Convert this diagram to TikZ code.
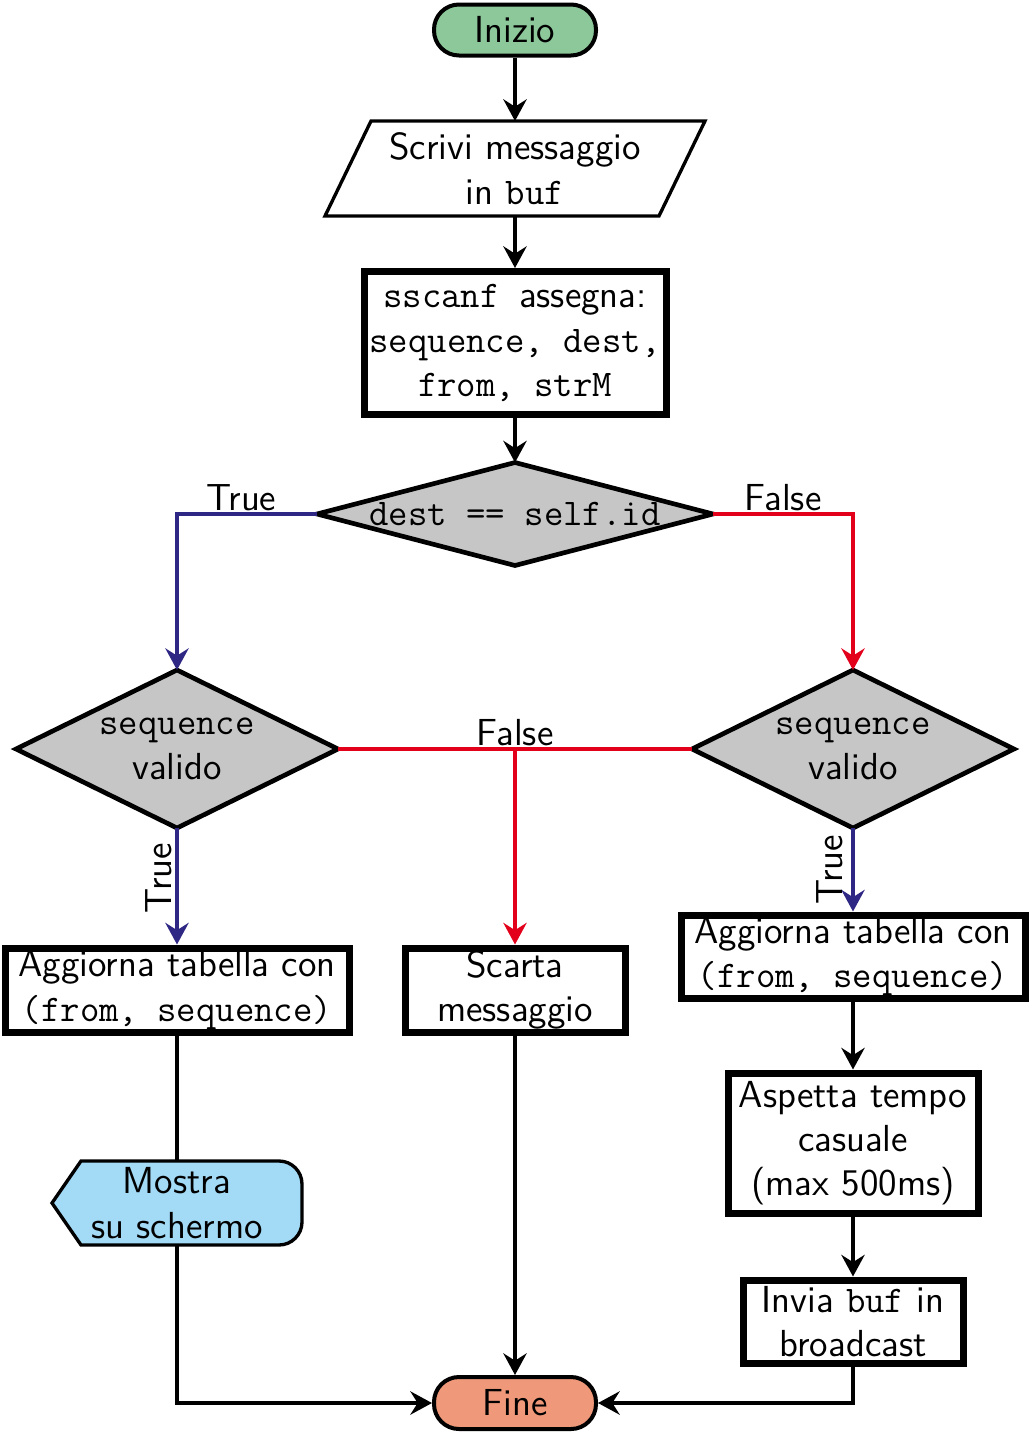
\documentclass[tikz,border=0pt]{standalone}
\usetikzlibrary{arrows.meta,calc}
\pgfdeclarelayer{background}
\pgfsetlayers{background,main}
\definecolor{startgreen}{HTML}{8DC89A}
\definecolor{endsalmon}{HTML}{F0997A}
\definecolor{displayblue}{HTML}{A3DAF5}
\definecolor{decgray}{HTML}{C6C6C6}
\definecolor{truepath}{HTML}{2E2783}
\definecolor{falsepath}{HTML}{E3001B}
\tikzset{
  nodetext/.style={font=\sffamily\fontsize{11.3}{13.3}\selectfont, align=center, inner sep=0.5pt},
  terminal/.style={nodetext, rectangle, rounded corners=7.5pt, draw, line width=1.2pt,
                   minimum width=48.6pt, minimum height=15.3pt},
  procbox/.style={nodetext, rectangle, draw, line width=2.1pt},
  txtnode/.style={nodetext, rectangle, outer sep=0pt},
  conn/.style={line width=1pt, -{Stealth[length=6.5pt,width=7pt,inset=2.2pt]}},
  link/.style={line width=1pt},
  edgelabel/.style={font=\sffamily\fontsize{11.3}{13.3}\selectfont, text=black, inner sep=0.5pt},
  decision/.style={fill=decgray, draw, line width=1.4pt},
}
\begin{document}
\begin{tikzpicture}[x=0.3pt, y=-0.3pt]
\useasboundingbox (0,0) rectangle (1031,1433);

% --- main column ---
\node[terminal, fill=startgreen] (start) at (515,30) {Inizio};
\node[txtnode, minimum width=100.2pt, minimum height=28.5pt] (write) at (515,168.5)
  {Scrivi messaggio\\ in \texttt{buf}};
\node[procbox, minimum width=90.6pt, minimum height=42.9pt] (scan) at (515,343)
  {\texttt{sscanf\ }assegna:\\ \texttt{sequence, dest,}\\ \texttt{from, strM}};
\node[txtnode, minimum width=118.8pt, minimum height=30.9pt] (d1) at (515,514)
  {\texttt{dest == self.id}};

% --- decisions on sequence ---
\node[txtnode, minimum width=96.6pt, minimum height=47.4pt] (d2) at (177,749)
  {\texttt{sequence}\\ valido};
\node[txtnode, minimum width=96.6pt, minimum height=47.4pt] (d3) at (853,749)
  {\texttt{sequence}\\ valido};

% --- actions ---
\node[procbox, minimum width=103.2pt, minimum height=25.2pt] (agg1) at (177,990)
  {Aggiorna tabella con\\ \texttt{(from, sequence)}};
\node[procbox, minimum width=66pt, minimum height=25.2pt] (scarta) at (515,990)
  {Scarta\\ messaggio};
\node[procbox, minimum width=103.2pt, minimum height=24.9pt] (agg2) at (853,956.5)
  {Aggiorna tabella con\\ \texttt{(from, sequence)}};
\node[procbox, minimum width=75pt, minimum height=42pt] (aspetta) at (853,1143)
  {Aspetta tempo\\ casuale\\ (max 500ms)};
\node[procbox, minimum width=66pt, minimum height=24.9pt] (invia) at (853,1321.5)
  {Invia \texttt{buf} in\\ broadcast};
\node[txtnode, minimum width=75pt, minimum height=25.2pt] (mostra) at (177,1203)
  {Mostra\\ su schermo};
\node[terminal, fill=endsalmon, minimum height=15.6pt] (fine) at (515,1403) {Fine};

% --- shapes behind the texts ---
\begin{pgfonlayer}{background}
  \draw[line width=1pt, fill=white]
    ($(write.north west)+(23,0)$) -- ($(write.north east)+(23,0)$)
    -- ($(write.south east)+(-23,0)$) -- ($(write.south west)+(-23,0)$) -- cycle;
  \foreach \d in {d1,d2,d3}
    \draw[decision] (\d.north) -- (\d.east) -- (\d.south) -- (\d.west) -- cycle;
  \draw[line width=1pt, fill=displayblue]
    (mostra.west) -- ($(mostra.north west)+(29,0)$)
    -- ($(mostra.north east)+(-23,0)$) arc[start angle=90, end angle=0, radius=6.9pt]
    -- ($(mostra.south east)+(0,-23)$) arc[start angle=0, end angle=-90, radius=6.9pt]
    -- ($(mostra.south west)+(29,0)$) -- cycle;
\end{pgfonlayer}

% --- connectors ---
\draw[conn] (start.south) -- (write.north);
\draw[conn] (write.south) -- (scan.north);
\draw[conn] (scan.south) -- (d1.north);
\draw[conn, truepath] (d1.west) -| node[edgelabel, pos=0.27, above] {True} (d2.north);
\draw[conn, falsepath] (d1.east) -| node[edgelabel, pos=0.25, above] {False} (d3.north);
\draw[link, falsepath] (d2.east) -- node[edgelabel, above] {False} (d3.west);
\coordinate (fork) at (scarta.north |- d2.east);
\draw[conn, falsepath] (fork) -- (scarta.north);
\draw[conn, truepath] (d2.south) -- node[edgelabel, rotate=90, anchor=south, pos=0.43, inner sep=1pt] {True} (agg1.north);
\draw[conn, truepath] (d3.south) -- node[edgelabel, rotate=90, anchor=south, pos=0.5, inner sep=2.5pt] {True} (agg2.north);
\draw[conn] (agg2.south) -- (aspetta.north);
\draw[conn] (aspetta.south) -- (invia.north);
\draw[link] (agg1.south) -- (mostra.north);
\draw[conn] (mostra.south) |- (fine.west);
\draw[conn] (scarta.south) -- (fine.north);
\draw[conn] (invia.south) |- (fine.east);
\end{tikzpicture}
\end{document}
